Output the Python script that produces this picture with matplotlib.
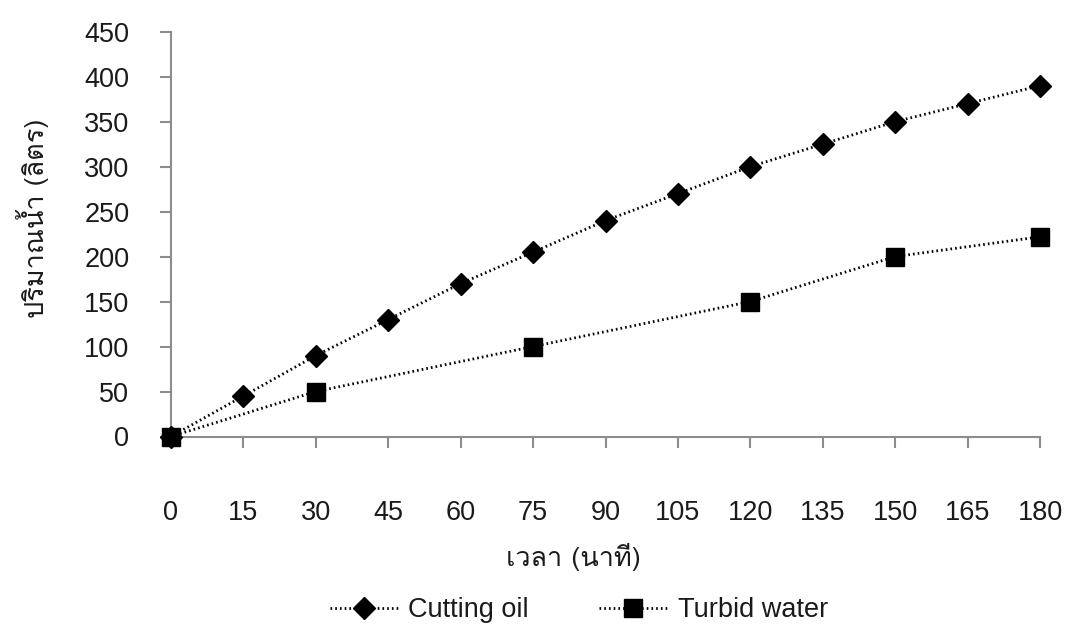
import matplotlib
matplotlib.use("Agg")
import matplotlib.pyplot as plt
from matplotlib import font_manager
from matplotlib.ft2font import FT2Font
from matplotlib.lines import Line2D

# Sampling times (minutes) and collected water volume (litres)
time_ticks = [0, 15, 30, 45, 60, 75, 90, 105, 120, 135, 150, 165, 180]
cutting_oil_time = [0, 15, 30, 45, 60, 75, 90, 105, 120, 135, 150, 165, 180]
cutting_oil_volume = [0, 45, 90, 130, 170, 205, 240, 270, 300, 325, 350, 370, 390]
turbid_time = [0, 30, 75, 120, 150, 180]
turbid_volume = [0, 50, 100, 150, 200, 222]
volume_ticks = [0, 50, 100, 150, 200, 250, 300, 350, 400, 450]

series_labels = ["Cutting oil", "Turbid water"]
x_title = "เวลา (นาที)"
y_title = "ปริมาณน้ำ (ลิตร)"


def thai_family():
    """Return the first installed family that has Thai glyphs."""
    for f in font_manager.fontManager.ttflist:
        try:
            cmap = FT2Font(f.fname).get_charmap()
        except Exception:
            continue
        if 0x0E1B in cmap and 0x0E32 in cmap and 0x0E49 in cmap:
            return f.name
    return None


latin = "Liberation Sans"
thai = thai_family()
label_family = [latin] + ([thai] if thai else []) + ["DejaVu Sans"]
title_family = ([thai] if thai else []) + [latin, "DejaVu Sans"]
plt.rcParams["font.family"] = label_family

W, H = 1067, 635
fig = plt.figure(figsize=(W / 100, H / 100), dpi=100)
ax = fig.add_axes([171 / W, 1 - 436.5 / H, (1040 - 171) / W, (436.5 - 31.7) / H])

axis_grey = "#8c8c8c"
text_color = "#1a1a1a"
dot_style = (0, (0.6, 1.1))
line_kw = dict(color="black", lw=2.0, linestyle=dot_style, mfc="black", mec="black")

ax.plot(cutting_oil_time, cutting_oil_volume, marker="D", ms=11,
        clip_on=False, zorder=3, **line_kw)
ax.plot(turbid_time, turbid_volume, marker="s", ms=12.5,
        clip_on=False, zorder=3, **line_kw)

ax.set_xlim(0, 180)
ax.set_ylim(0, 450)
ax.set_xticks(time_ticks)
ax.set_xticklabels([str(t) for t in time_ticks])
ax.set_yticks(volume_ticks)
ax.set_yticklabels([str(v) for v in volume_ticks])

for side in ("top", "right"):
    ax.spines[side].set_visible(False)
for side in ("left", "bottom"):
    ax.spines[side].set_color(axis_grey)
    ax.spines[side].set_linewidth(1.5)

ax.tick_params(axis="x", direction="out", length=8, width=1.5, color=axis_grey,
               labelsize=19.5, pad=38, labelcolor=text_color)
ax.tick_params(axis="y", direction="out", length=8, width=1.5, color=axis_grey,
               labelsize=19.5, pad=22, labelcolor=text_color)

fig.text(573 / W, 1 - 557 / H, x_title, ha="center", va="center",
         fontsize=19.5, color=text_color, family=title_family)
fig.text(33 / W, 1 - 218 / H, y_title, ha="center", va="center",
         rotation=90, fontsize=19.5, color=text_color, family=title_family)

handles = [
    Line2D([], [], marker="D", ms=11, **line_kw),
    Line2D([], [], marker="s", ms=12.5, **line_kw),
]
fig.legend(handles, series_labels, loc="center", bbox_to_anchor=(579 / W, 1 - 610 / H),
           ncol=2, frameon=False, fontsize=19.5, handlelength=2.5,
           handletextpad=0.4, columnspacing=2.6, borderpad=0,
           labelcolor=text_color)

fig.savefig("out.png", dpi=100)
